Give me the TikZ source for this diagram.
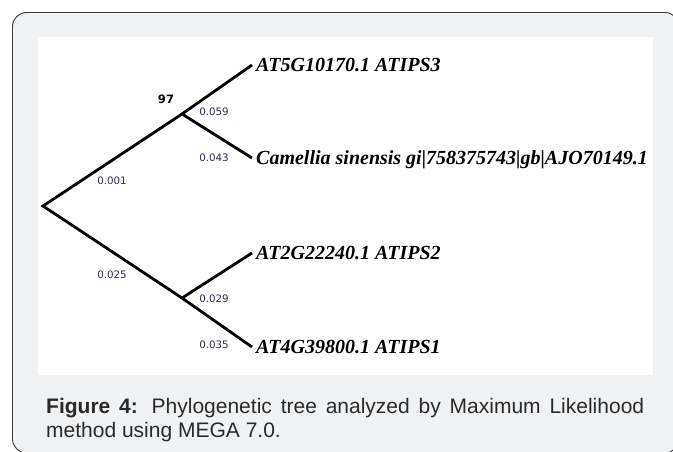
\documentclass[tikz,border=0pt]{standalone}
\usepackage{fontspec}
\setmainfont{Liberation Serif}
\newfontfamily\numfont{DejaVu Sans}
\newfontfamily\capfont{Liberation Sans}
\definecolor{panelbg}{HTML}{F1F2F4}
\definecolor{panelline}{HTML}{3A3A3A}
\definecolor{numcol}{HTML}{2D2D55}
\definecolor{captext}{HTML}{2A2A2A}
\begin{document}
\begin{tikzpicture}[x=1pt,y=-1pt,
  branch/.style={line width=2.8pt,black},
  tiplabel/.style={anchor=base west,inner sep=0pt,font=\fontsize{20}{24}\selectfont\bfseries\itshape},
  blen/.style={anchor=base,inner sep=0pt,text=numcol,font=\numfont\fontsize{10.3}{12}\selectfont},
  boot/.style={anchor=base,inner sep=0pt,font=\numfont\bfseries\fontsize{11.5}{13}\selectfont},
  captionline/.style={anchor=base west,inner sep=0pt,text=captext,font=\capfont\fontsize{21}{24}\selectfont}]
\useasboundingbox (0,0) rectangle (673,452);
% panel
\draw[panelline,line width=0.9pt,fill=panelbg,rounded corners=14pt] (12.5,12.5) rectangle (679,453);
\fill[white] (38,37) rectangle (653,375);
% tree points
\coordinate (root) at (43,206);
\coordinate (up) at (182,114);
\coordinate (lo) at (182,298);
\coordinate (tA) at (252,65);
\coordinate (tB) at (252,158);
\coordinate (tC) at (252,253);
\coordinate (tD) at (252,347);
\draw[branch] (tA) -- (up) -- (tB);
\draw[branch] (up) -- (root) -- (lo);
\draw[branch] (tC) -- (lo) -- (tD);
% tip labels
\node[tiplabel] (lA) at (256,71.5) {AT5G10170.1 ATIPS3};
\node[tiplabel] (lB) at (256,164.5) {Camellia sinensis gi|758375743|gb|AJO70149.1};
\node[tiplabel] (lC) at (256,259.5) {AT2G22240.1 ATIPS2};
\node[tiplabel] (lD) at (256,353.5) {AT4G39800.1 ATIPS1};
% branch lengths
\node[blen] (b1) at (214,115.5) {0.059};
\node[blen] (b2) at (214,161) {0.043};
\node[blen] (b3) at (112,185) {0.001};
\node[blen] (b4) at (112,278) {0.025};
\node[blen] (b5) at (214,302) {0.029};
\node[blen] (b6) at (214,348) {0.035};
\node[boot] (bs) at (166,104) {97};
% caption
\node[captionline] (c1) at (46,413) {\makebox[598pt][s]{\textbf{Figure 4:} Phylogenetic tree analyzed by Maximum Likelihood}};
\node[captionline] (c2) at (46,437) {method using MEGA 7.0.};
\end{tikzpicture}
\end{document}
